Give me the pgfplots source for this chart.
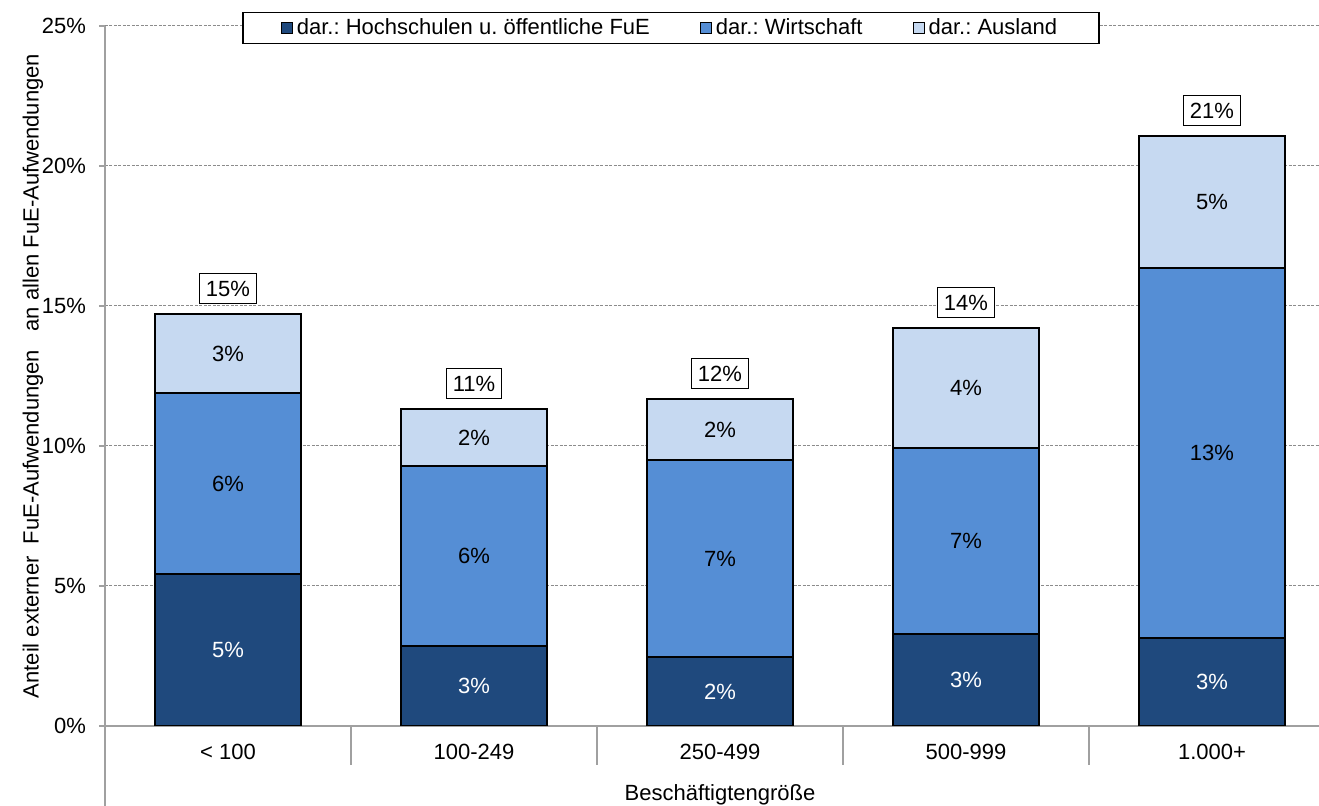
\documentclass[border=0pt]{standalone}
\usepackage{fontspec}
\setmainfont{Liberation Sans}
\usepackage{pgfplots}
\usepackage{pgfplotstable}
\pgfplotsset{compat=1.18}

\definecolor{hochschul}{RGB}{31,73,125}
\definecolor{wirtschaft}{RGB}{85,142,213}
\definecolor{ausland}{RGB}{198,217,241}
\definecolor{axisgray}{RGB}{160,160,160}
\definecolor{gridgray}{RGB}{140,140,140}

% Anteil externer FuE-Aufwendungen an allen FuE-Aufwendungen (in %),
% nach Empfänger, je Beschäftigtengrößenklasse
\pgfplotstableread{
x hoch wirt ausl
0 5.43 6.46 2.82
1 2.86 6.43 2.03
2 2.46 7.04 2.18
3 3.29 6.64 4.28
4 3.14 13.22 4.71
}\anteile

\pgfplotsset{
  frame/.style={
    at={(0,0)}, anchor=south west,
    scale only axis, width=607pt, height=350pt,
    xmin=-0.5, xmax=4.435, ymin=0, ymax=25,
    /pgf/number format/assume math mode=true,
  },
}

\begin{document}
\frenchspacing
\begin{tikzpicture}[font=\fontsize{11}{13}\selectfont]
\useasboundingbox (-52.5pt,-40pt) rectangle (607pt,363pt);
\begin{axis}[
  frame,
  ybar stacked, bar width=73pt,
  axis x line*=bottom, axis y line*=left,
  axis line style={-, axisgray, line width=1pt},
  ytick={0,5,...,25},
  yticklabel={\pgfmathprintnumber{\tick}\%},
  yticklabel style={xshift=-3pt},
  ytick style={axisgray, line width=1pt},
  tick align=outside, major tick length=3pt,
  xtick={0.5,1.5,2.5,3.5}, xticklabels={},
  xtick style={/pgfplots/major tick length=19.5pt, axisgray, line width=1pt},
  ymajorgrids,
  grid style={gridgray, line width=0.5pt, dash pattern=on 1.5pt off 0.75pt},
  ylabel={Anteil externer\ \ FuE-Aufwendungen\ \ \ an allen FuE-Aufwendungen},
  ylabel style={at={(axis description cs:-0.0593,0.5)}, anchor=center},
  xlabel={Beschäftigtengröße},
  xlabel style={at={(axis description cs:0.5066,-0.0986)}, anchor=center},
  legend columns=3,
  legend style={at={(axis description cs:0.4662,1.02)}, anchor=north,
    draw=black, line width=0.75pt, fill=white, inner xsep=19pt, inner ysep=1pt,
    /tikz/every even column/.append style={column sep=23pt}},
  legend cell align=left,
  legend image code/.code={\draw[#1, draw=black, line width=0.5pt] (0pt,-2.75pt) rectangle (5.5pt,2.75pt);},
]
\addplot[fill=hochschul, draw=black, line width=0.75pt] table[x=x, y=hoch]{\anteile};
\addlegendentry{dar.: Hochschulen u. öffentliche FuE}
\addplot[fill=wirtschaft, draw=black, line width=0.75pt] table[x=x, y=wirt]{\anteile};
\addlegendentry{dar.: Wirtschaft}
\addplot[fill=ausland, draw=black, line width=0.75pt] table[x=x, y=ausl]{\anteile};
\addlegendentry{dar.: Ausland}
\end{axis}
\draw[axisgray, line width=1pt] (0,0) -- (0,-40pt);
% Werte der Segmente und Summen, Kategorienbeschriftung
\begin{axis}[
  frame, hide y axis, clip=false,
  axis x line*=bottom, x axis line style={draw=none},
  tick align=inside,
  xtick={0,...,4},
  xticklabels={{< 100},{100-249},{250-499},{500-999},{1.000+}},
  xtick style={draw=none},
  xticklabel style={yshift=-5.3pt},
  nodes near coords={\pgfmathprintnumber[fixed,precision=0]{\pgfplotspointmeta}\%},
  point meta=explicit,
]
\addplot[draw=none, mark=none, nodes near coords style={anchor=center, text=white}]
  table[x=x, y expr=\thisrow{hoch}/2, meta=hoch]{\anteile};
\addplot[draw=none, mark=none, nodes near coords style={anchor=center, text=black}]
  table[x=x, y expr=\thisrow{hoch}+\thisrow{wirt}/2, meta=wirt]{\anteile};
\addplot[draw=none, mark=none, nodes near coords style={anchor=center, text=black}]
  table[x=x, y expr=\thisrow{hoch}+\thisrow{wirt}+\thisrow{ausl}/2, meta=ausl]{\anteile};
\addplot[draw=none, mark=none, point meta={\thisrow{hoch}+\thisrow{wirt}+\thisrow{ausl}},
  nodes near coords style={anchor=south, yshift=5pt, draw=black, fill=white, text=black,
    line width=0.5pt, text height=8pt, text depth=0pt, inner xsep=3.2pt, inner ysep=3.5pt}]
  table[x=x, y expr=\thisrow{hoch}+\thisrow{wirt}+\thisrow{ausl}]{\anteile};
\end{axis}
\end{tikzpicture}
\end{document}
